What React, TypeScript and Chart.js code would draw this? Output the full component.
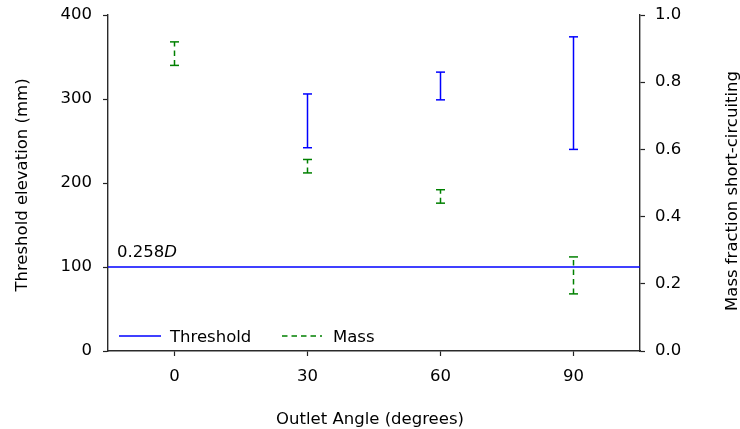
import React, { useEffect, useRef } from "react";
import { Chart, registerables } from "chart.js";

Chart.register(...registerables);

// ---- data ----
const angles = [0, 30, 60, 90];
const thresholdLow: (number | null)[] = [null, 242, 299, 240];
const thresholdHigh: (number | null)[] = [null, 306, 332, 374];
const massLow = [0.85, 0.53, 0.44, 0.17];
const massHigh = [0.92, 0.57, 0.48, 0.28];
const thresholdLine = 100;
const thresholdLineLabel = "0.258";
const thresholdLineLabelItalic = "D";
const xTicks = [0, 30, 60, 90];
const xMin = -15;
const xMax = 105;
const leftTicksMax = 400;
const rightTicksMax = 1.0;

const FONT = "'DejaVu Sans', sans-serif";
const FS = 16.5;
const BLUE = "#0000ff";
const GREEN = "#008000";

function errorBarData(lo: (number | null)[], hi: (number | null)[]) {
  const pts: { x: number; y: number | null }[] = [];
  angles.forEach((a, i) => {
    if (lo[i] == null || hi[i] == null) return;
    pts.push({ x: a, y: lo[i] }, { x: a, y: hi[i] }, { x: a, y: null });
  });
  return pts;
}

const overlayPlugin = {
  id: "overlay",
  afterDraw(chart: any) {
    const { ctx, chartArea } = chart;
    const { left, bottom } = chartArea;
    ctx.save();
    ctx.fillStyle = "#000";
    ctx.font = `${FS}px ${FONT}`;
    ctx.textBaseline = "alphabetic";

    // line annotation label
    const yScale = chart.scales.y;
    const ly = yScale.getPixelForValue(thresholdLine) - 10;
    ctx.textAlign = "left";
    ctx.fillText(thresholdLineLabel, left + 9, ly);
    const w = ctx.measureText(thresholdLineLabel).width;
    ctx.font = `italic ${FS}px ${FONT}`;
    ctx.fillText(thresholdLineLabelItalic, left + 9 + w, ly);
    ctx.font = `${FS}px ${FONT}`;

    // legend
    const legY = bottom - 15;
    ctx.lineWidth = 1.5;
    ctx.strokeStyle = BLUE;
    ctx.setLineDash([]);
    ctx.beginPath();
    ctx.moveTo(left + 11, legY);
    ctx.lineTo(left + 53, legY);
    ctx.stroke();
    ctx.fillText("Threshold", left + 62, legY + 5.5);
    ctx.strokeStyle = GREEN;
    ctx.setLineDash([5.5, 4]);
    ctx.beginPath();
    ctx.moveTo(left + 174, legY);
    ctx.lineTo(left + 214, legY);
    ctx.stroke();
    ctx.setLineDash([]);
    ctx.fillText("Mass", left + 225, legY + 5.5);

    // axis titles
    ctx.textAlign = "center";
    ctx.fillText("Outlet Angle (degrees)", 370, 423.5);
    ctx.save();
    ctx.translate(27, 185);
    ctx.rotate(-Math.PI / 2);
    ctx.fillText("Threshold elevation (mm)", 0, 0);
    ctx.restore();
    ctx.save();
    ctx.translate(737, 191);
    ctx.rotate(-Math.PI / 2);
    ctx.fillText("Mass fraction short-circuiting", 0, 0);
    ctx.restore();
    ctx.restore();
  },
};

export default function App() {
  const ref = useRef<HTMLCanvasElement | null>(null);
  useEffect(() => {
    document.body.style.margin = "0";
    if (!ref.current) return;
    const grid = {
      drawOnChartArea: false,
      drawTicks: true,
      tickLength: 5,
      tickColor: "#222",
      tickWidth: 1.2,
    };
    const border = { display: true, color: "#2a2a2a", width: 1.4 };
    const tickFont = { family: FONT, size: FS };
    const chart = new Chart(ref.current, {
      type: "line",
      data: {
        datasets: [
          {
            label: "Threshold line",
            data: [
              { x: xMin, y: thresholdLine },
              { x: xMax, y: thresholdLine },
            ],
            borderColor: BLUE,
            borderWidth: 1.5,
            pointRadius: 0,
            yAxisID: "y",
          },
          {
            label: "Threshold",
            data: errorBarData(thresholdLow, thresholdHigh),
            borderColor: BLUE,
            borderWidth: 1.5,
            pointStyle: "line",
            pointRadius: 4.5,
            pointBorderColor: BLUE,
            pointBorderWidth: 1.5,
            spanGaps: false,
            yAxisID: "y",
          },
          {
            label: "Mass",
            data: errorBarData(massLow, massHigh),
            borderColor: GREEN,
            borderWidth: 1.5,
            borderDash: [5.5, 4],
            pointStyle: "line",
            pointRadius: 4.5,
            pointBorderColor: GREEN,
            pointBorderWidth: 1.5,
            spanGaps: false,
            yAxisID: "y1",
          },
        ] as any,
      },
      options: {
        animation: false,
        responsive: false,
        events: [],
        layout: { padding: { top: 15, left: 0, right: 0, bottom: 0 } },
        plugins: { legend: { display: false }, tooltip: { enabled: false } },
        scales: {
          x: {
            type: "linear",
            min: xMin,
            max: xMax,
            grid,
            border,
            ticks: { font: tickFont, color: "#000", padding: 11, maxRotation: 0 },
            afterBuildTicks: (axis: any) => {
              axis.ticks = xTicks.map((v) => ({ value: v }));
            },
            afterFit: (s: any) => {
              s.height = 78;
              s.paddingLeft = 0;
              s.paddingRight = 0;
            },
          },
          y: {
            type: "linear",
            position: "left",
            min: 0,
            max: leftTicksMax,
            grid,
            border,
            ticks: { font: tickFont, color: "#000", padding: 11, stepSize: 100 },
            afterFit: (s: any) => {
              s.width = 108;
              s.paddingTop = 0;
              s.paddingBottom = 0;
            },
          },
          y1: {
            type: "linear",
            position: "right",
            min: 0,
            max: rightTicksMax,
            grid,
            border,
            ticks: {
              font: tickFont,
              color: "#000",
              padding: 10,
              stepSize: 0.2,
              callback: (v: any) => Number(v).toFixed(1),
            },
            afterFit: (s: any) => {
              s.width = 100;
              s.paddingTop = 0;
              s.paddingBottom = 0;
            },
          },
        },
      } as any,
      plugins: [overlayPlugin],
    });
    return () => chart.destroy();
  }, []);
  return (
    <div style={{ position: "relative", width: 740, height: 429 }}>
      <canvas ref={ref} width={740} height={429} />
    </div>
  );
}
